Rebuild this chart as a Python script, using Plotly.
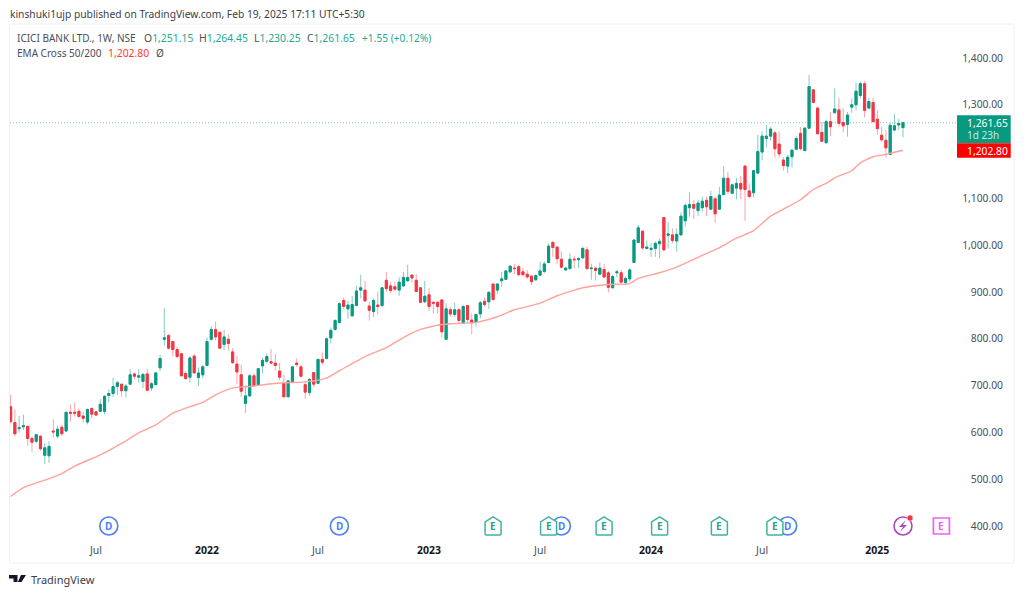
import numpy as np
import pandas as pd
import plotly.graph_objects as go

opens = [655,621,608,612,613,587,581,592,551,550,
603,592,611,603,643,643,645,635,622,651,
644,645,645,679,683,698,703,689,703,725,
718,709,725,695,702,738,799,807,794,777,
768,726,718,763,717,723,743,799,820,814,
788,799,772,746,723,662,678,721,701,742,
752,751,748,731,705,676,708,748,740,702,
685,728,705,756,758,802,820,835,882,864,
849,871,904,904,870,858,872,871,925,913,
911,904,913,924,936,925,909,879,894,878,
878,883,799,862,852,862,833,871,840,835,
853,880,879,917,904,924,927,943,951,954,
943,938,934,926,936,944,963,1006,996,970,
947,950,970,969,973,990,950,951,938,948,
941,909,941,941,920,928,963,1006,1030,993,
991,993,1003,1059,1021,1022,1009,1022,1052,1080,
1087,1074,1080,1096,1077,1099,1077,1108,1143,1111,
1122,1132,1169,1116,1112,1154,1199,1228,1233,1240,
1216,1182,1169,1189,1205,1239,1202,1250,1332,1293,
1241,1219,1264,1283,1289,1262,1258,1295,1300,1320,
1345,1293,1305,1269,1235,1224,1194,1246,1257,1251.15]
highs = [680,649,635,638,613,591,597,592,577,581,
628,614,616,644,660,664,651,644,651,654,
645,671,680,692,717,710,703,703,735,728,
735,726,736,708,730,766,866,810,795,783,
768,730,763,768,739,744,803,827,837,815,
819,810,780,763,744,701,726,726,736,760,
769,778,768,748,723,710,741,758,744,711,
716,728,756,771,803,824,842,878,888,881,
891,913,937,924,879,886,901,910,943,922,
922,931,943,958,938,938,909,924,908,879,
879,883,876,869,877,865,872,872,854,852,
881,888,902,917,919,943,945,957,960,958,
951,947,934,938,965,965,1004,1008,997,986,
954,983,978,975,997,997,960,951,963,960,
945,936,947,947,933,951,1012,1043,1030,1010,
1005,1008,1014,1059,1049,1036,1036,1070,1090,1113,
1097,1097,1104,1104,1116,1104,1125,1169,1157,1132,
1143,1148,1171,1132,1161,1236,1243,1257,1253,1244,
1243,1188,1193,1205,1233,1252,1253,1364,1333,1296,
1264,1268,1285,1335,1315,1293,1285,1314,1347,1350,
1350,1315,1314,1288,1253,1246,1262,1280,1270,1264.45]
lows = [619,592,599,605,571,559,577,561,532,535,
589,587,592,601,623,634,632,621,617,630,
635,644,639,664,676,680,676,675,701,713,
706,695,688,689,701,731,785,777,763,758,
719,712,707,726,699,716,742,796,797,779,
776,775,746,703,676,642,676,698,699,726,
748,746,732,712,676,675,708,740,718,671,
678,696,705,744,756,790,817,832,863,843,
847,869,886,879,839,847,851,869,901,897,
903,892,911,922,920,900,876,876,859,854,
854,803,799,847,846,833,832,834,810,826,
844,869,864,881,896,911,926,940,938,933,
933,929,915,924,934,940,961,975,960,950,
945,948,951,951,971,947,926,924,936,931,
899,908,931,919,915,922,963,1004,990,991,
975,975,972,988,993,1004,986,1022,1040,1061,
1056,1062,1072,1062,1077,1048,1077,1107,1109,1109,
1098,1098,1052,1100,1102,1152,1181,1209,1223,1187,
1187,1159,1154,1166,1203,1203,1201,1248,1303,1237,
1221,1216,1233,1282,1253,1241,1232,1283,1288,1314,
1273,1290,1263,1236,1221,1187,1193,1244,1246,1230.25]
closes = [623,597,610,614,587,579,595,565,567,570,
601,607,597,643,641,641,634,630,649,639,
637,660,677,683,698,706,689,699,723,720,
721,724,690,704,727,758,802,780,777,762,
721,715,759,727,727,740,794,820,804,780,
804,790,749,729,688,678,721,699,736,754,
762,748,743,718,676,710,740,745,720,686,
713,703,756,750,800,818,839,875,869,872,
873,902,909,881,861,882,869,909,907,903,
906,921,931,931,930,901,878,891,869,876,
869,815,864,853,862,839,869,841,834,852,
877,873,899,884,917,928,945,955,950,937,
937,932,922,935,945,960,998,995,971,953,
951,970,969,971,993,950,951,946,951,932,
910,933,943,921,929,947,1011,1037,994,996,
993,1004,1008,990,1024,1010,1023,1062,1085,1087,
1079,1090,1094,1082,1104,1067,1107,1143,1115,1129,
1132,1120,1119,1104,1159,1200,1233,1233,1248,1206,
1195,1170,1188,1203,1228,1206,1250,1339,1305,1238,
1222,1264,1253,1291,1260,1255,1278,1300,1329,1345,
1288,1307,1264,1249,1225,1208,1256,1255,1260,1261.65]

# EMA 50/200 at these candle numbers
ema_weeks = [0,3,8,12,15,21,27,30,34,38,42,45,48,52,56,60,64,69,74,78,83,88,93,96,100,103,109,114,118,124,128,134,140,145,147,152,156,161,166,170,174,178,181,185,188,191,193,197,199,202,205,209]
ema_values = [463,482,498,512,528,552,582,599,616,641,655,664,680,695,698,703,706,708,716,737,762,781,808,820,829,832,835,847,862,876,892,909,916,918,929,941,953,974,995,1015,1031,1062,1077,1097,1119,1132,1144,1159,1176,1189,1194,1202.8]

week_start = pd.date_range("2021-02-15", periods=len(opens), freq="7D")
all_weeks = pd.date_range("2021-02-15", periods=240, freq="7D")

# 1,200.00 is hidden behind the EMA price label in the reference
price_ticks = [400,500,600,700,800,900,1000,1100,1300,1400]
time_ticks = ["2021-07-05","2022-01-03","2022-07-04","2023-01-02","2023-07-03","2024-01-01","2024-07-01","2025-01-06"]
time_labels = ["Jul","2022","Jul","2023","Jul","2024","Jul","2025"]
dividend_weeks = [23,77,129,182]
earnings_weeks = [113,126,139,152,166,179]
upcoming_earnings_week = 218
split_week = 209
event_price = 400

UP, DOWN = "#089981", "#f23645"
UP_W, DOWN_W = "#84ccc0", "#f9a3aa"
EMA_C = "#ffa39c"
TXT = "#4a4e59"
FONT = "Noto Sans"
W, H = 1024, 595
L, R, T, B = 10, 1014, 24, 563
xpos = lambda p: (p - L) / (R - L)
ypos = lambda p: (B - p) / (B - T)

fig = go.Figure()
fig.add_trace(go.Candlestick(x=week_start, open=opens, high=highs, low=lows, close=closes, whiskerwidth=0,
    increasing=dict(line=dict(color=UP_W, width=1), fillcolor=UP_W),
    decreasing=dict(line=dict(color=DOWN_W, width=1), fillcolor=DOWN_W), showlegend=False, hoverinfo="skip"))
o, c = np.array(opens), np.array(closes)
fig.add_trace(go.Candlestick(x=week_start, open=opens, high=np.maximum(o, c), low=np.minimum(o, c), close=closes, whiskerwidth=0,
    increasing=dict(line=dict(color=UP, width=1), fillcolor=UP),
    decreasing=dict(line=dict(color=DOWN, width=1), fillcolor=DOWN), showlegend=False))
fig.add_trace(go.Scatter(x=week_start[ema_weeks], y=ema_values, mode="lines",
    line=dict(color=EMA_C, width=1.4, shape="spline", smoothing=0.5), showlegend=False))
fig.add_trace(go.Scatter(x=all_weeks[dividend_weeks], y=[event_price]*len(dividend_weeks), mode="markers",
    marker=dict(symbol="circle", size=18, color="white", line=dict(color="#4d7ff5", width=1.6)), showlegend=False))

shapes, annos = [], []
shapes.append(dict(type="rect", xref="paper", yref="paper", x0=-0.0005, x1=1, y0=0, y1=1, line=dict(color="#eef0f5", width=1), layer="below"))
shapes.append(dict(type="line", xref="paper", yref="y", x0=0, x1=xpos(957), y0=closes[-1], y1=closes[-1],
    line=dict(color="#7cc9bb", width=1, dash="1px,2px"), layer="below"))

def anno(x, y, text, size=11, color=TXT, xanchor="left", **kw):
    annos.append(dict(xref="paper", yref="paper", x=xpos(x), y=ypos(y), text=text, showarrow=False, xanchor=xanchor,
        yanchor="middle", font=dict(family=FONT, size=size, color=color), **kw))

house = "M -8,-8 Q -8,-9 -7,-9 L 7,-9 Q 8,-9 8,-8 L 8,4 L 0,9 L -8,4 Z"
for wk in earnings_weeks:
    d = str(all_weeks[wk].date())
    shapes.append(dict(type="path", xsizemode="pixel", ysizemode="pixel", xref="x", yref="y", xanchor=d, yanchor=event_price,
        path=house, fillcolor="white", line=dict(color="#3eb3a0", width=1.5), layer="above"))
    annos.append(dict(x=d, y=event_price, text="<b>E</b>", showarrow=False, font=dict(family=FONT, size=10, color="#2ba08c")))
for wk in dividend_weeks:
    annos.append(dict(x=str(all_weeks[wk].date()), y=event_price, text="<b>D</b>", showarrow=False, font=dict(family=FONT, size=10, color="#4d7ff5")))

d = str(all_weeks[upcoming_earnings_week].date())
shapes.append(dict(type="rect", xsizemode="pixel", ysizemode="pixel", xref="x", yref="y", xanchor=d, yanchor=event_price,
    x0=-8, x1=8, y0=-8, y1=8, line=dict(color="#f060f8", width=1.7), fillcolor="white"))
annos.append(dict(x=d, y=event_price, text="<b>E</b>", showarrow=False, font=dict(family=FONT, size=10, color="#f060f8")))

d = str(all_weeks[split_week].date())
shapes.append(dict(type="circle", xsizemode="pixel", ysizemode="pixel", xref="x", yref="y", xanchor=d, yanchor=event_price,
    x0=-9, x1=9, y0=-9, y1=9, line=dict(color="#ab47bc", width=1.6), fillcolor="white", layer="above"))
shapes.append(dict(type="path", xsizemode="pixel", ysizemode="pixel", xref="x", yref="y", xanchor=d, yanchor=event_price,
    path="M 3,6 L -4,-1 L 0,-1 L -3,-6 L 4,1 L 0,1 Z", fillcolor="#ab47bc", line=dict(width=0), layer="above"))
shapes.append(dict(type="circle", xsizemode="pixel", ysizemode="pixel", xref="x", yref="y", xanchor=d, yanchor=event_price,
    x0=4, x1=10, y0=5, y1=11, line=dict(color="white", width=0.5), fillcolor="#f23645", layer="above"))

# header and legend
G = "#22ab94"
anno(7.5, 14, "kinshuki1ujp published on TradingView.com, Feb 19, 2025 17:11 UTC+5:30", size=10.25, color="#3a3e49")
anno(15, 38, "ICICI BANK LTD., 1W, NSE", size=10)
for x, letter, val in [(142, "O", "1,251.15"), (197, "H", "1,264.45"), (252, "L", "1,230.25"), (305, "C", "1,261.65")]:
    anno(x, 38, "%s<span style='color:%s'>%s</span>" % (letter, G, val), size=10.4)
anno(360, 38, "+1.55 (+0.12%)", size=10.2, color=G)
anno(15, 53, "EMA Cross 50/200", size=10)
anno(106, 53, "1,202.80", size=10.4, color="#ff3b30")
anno(154, 53, "Ø", size=10)

# last price boxes
shapes.append(dict(type="rect", xref="paper", yref="paper", x0=xpos(957), x1=xpos(1010.7), y0=ypos(143.3), y1=ypos(115.3),
    fillcolor="#089981", line=dict(width=0), layer="above"))
shapes.append(dict(type="rect", xref="paper", yref="paper", x0=xpos(957), x1=xpos(1010.7), y0=ypos(157.7), y1=ypos(143.3),
    fillcolor="#ff0000", line=dict(width=0), layer="above"))
anno(964.5, 122.5, "1,261.65", size=10.3, color="white")
anno(964.5, 135, "1d 23h", size=10, color="#c8e8e2")
anno(964.5, 150.5, "1,202.80", size=10.3, color="white")

# footer
shapes.append(dict(type="path", xref="paper", yref="paper", xsizemode="pixel", ysizemode="pixel", xanchor=xpos(9), yanchor=ypos(582),
    path="M 0,7 L 8.5,7 L 8.5,0 L 4.5,0 L 4.5,3.5 L 0,3.5 Z M 12,7 L 17,7 L 12.5,0 L 8.8,0 Z M 10.4,4 a 1.6,1.6 0 1 0 0.1,0 Z", fillcolor="#131722", line=dict(width=0)))
anno(29, 579.5, "TradingView", size=11, color="#3a3e49")

ticktext = []
for t in time_labels:
    ticktext.append("<b><span style='color:#131722'>%s</span></b>" % t if t.isdigit() else "<span style='color:#4a4e59'>%s</span>" % t)

fig.update_layout(
    width=W, height=H, margin=dict(l=L, r=W - R, t=T, b=H - B, pad=0),
    paper_bgcolor="white", plot_bgcolor="white", showlegend=False, shapes=shapes, annotations=annos,
    boxgap=0.3, hovermode=False,
    xaxis=dict(type="date", range=["2021-02-14", "2025-08-18"], tickvals=time_ticks, ticktext=ticktext,
        ticklabelposition="inside", ticks="", showgrid=False, zeroline=False, showline=False, rangeslider=dict(visible=False),
        tickfont=dict(family=FONT, size=10.5, color=TXT), tickangle=0, ticklabelstandoff=4),
    yaxis=dict(range=[320.9, 1472.6], side="right", tickvals=price_ticks, tickformat=",.2f", ticklabelposition="inside",
        ticks="", showgrid=False, zeroline=False, showline=False, tickfont=dict(family=FONT, size=10.3, color=TXT), ticklabelstandoff=8),
)
fig.write_html("out.html", config=dict(displayModeBar=False), post_script="document.body.style.margin='0';")
